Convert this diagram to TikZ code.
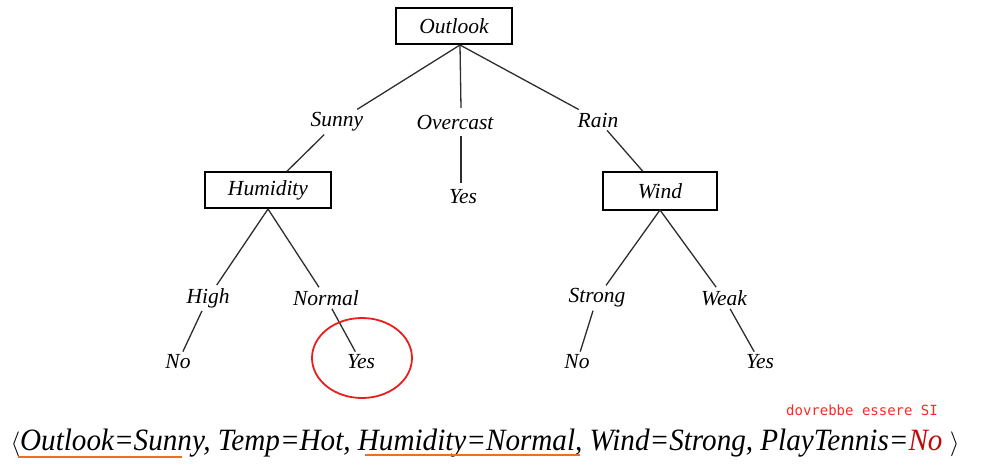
\documentclass[tikz,border=0pt]{standalone}
\usepackage{fontspec}
\setmainfont{Liberation Serif}
\newfontfamily\condfont[FakeStretch=0.94]{Liberation Serif}
\newfontfamily\monofont{DejaVu Sans Mono}
\definecolor{circred}{RGB}{235,30,30}
\definecolor{darkred}{RGB}{190,10,10}
\definecolor{notered}{RGB}{250,40,40}
\definecolor{ulorange}{RGB}{240,110,30}
\definecolor{linegray}{RGB}{45,45,45}
\begin{document}
\begin{tikzpicture}[x=1pt,y=-1pt,
  attr/.style={draw,line width=1.3pt,minimum width=116pt,minimum height=36pt,inner sep=2pt,font=\fontsize{21.5}{25}\selectfont\itshape},
  lab/.style={inner sep=3pt,font=\fontsize{21.5}{25}\selectfont\itshape},
  link/.style={line width=1.3pt,draw=linegray}]
\useasboundingbox (0,0) rectangle (986,466);
\node[attr] (outlook) at (454,26) {Outlook};
\node[lab] (sunny) at (337,122) {Sunny};
\node[lab] (overcast) at (455,122) {Overcast};
\node[lab] (rain) at (598,120) {Rain};
\node[attr,minimum width=126pt] (humidity) at (268,190) {Humidity};
\node[lab] (yes1) at (463,197) {Yes};
\node[attr,minimum width=114pt,minimum height=38pt] (wind) at (660,191) {Wind};
\node[lab] (high) at (208,298) {High};
\node[lab] (normal) at (326,298) {Normal};
\node[lab] (strong) at (597,298) {Strong};
\node[lab] (weak) at (724,298) {Weak};
\node[lab] (no1) at (178,362) {No};
\node[lab] (yes2) at (361,362) {Yes};
\node[lab] (no2) at (577,362) {No};
\node[lab] (yes3) at (760,362) {Yes};
\coordinate (o1) at (460,45);
\coordinate (ov1) at (461,108);
\coordinate (ov2) at (461,136);
\coordinate (ov3) at (461,183);
\coordinate (h1) at (268,209);
\coordinate (w1) at (660,210);
\draw[link] (o1) -- (sunny);
\draw[link] (o1) -- (ov1);
\draw[link] (o1) -- (rain);
\draw[link] (sunny) -- (humidity);
\draw[link] (ov2) -- (ov3);
\draw[link] (rain) -- (wind);
\draw[link] (h1) -- (high);
\draw[link] (h1) -- (normal);
\draw[link] (w1) -- (strong);
\draw[link] (w1) -- (weak);
\draw[link] (high) -- (no1);
\draw[link] (normal) -- (yes2);
\draw[link] (strong) -- (no2);
\draw[link] (weak) -- (yes3);
\draw[circred,line width=1.8pt] (362,358) ellipse [x radius=50, y radius=40];
\node[text=notered,font=\monofont\fontsize{14}{16}\selectfont] (note) at (862,410) {dovrebbe essere SI};
\node[inner sep=0pt,anchor=base,font=\condfont\fontsize{31}{36}\selectfont\itshape] (tuple) at (485,450)
  {$\langle$Outlook=Sunny, Temp=Hot, Humidity=Normal, Wind=Strong, PlayTennis=\textcolor{darkred}{No} $\rangle$};
\coordinate (u1a) at (18,457);
\coordinate (u1b) at (182,457);
\coordinate (u2a) at (365,455);
\coordinate (u2b) at (580,455);
\draw[ulorange,line width=1.2pt] (u1a) -- (u1b);
\draw[ulorange,line width=1.2pt] (u2a) -- (u2b);
\end{tikzpicture}
\end{document}
